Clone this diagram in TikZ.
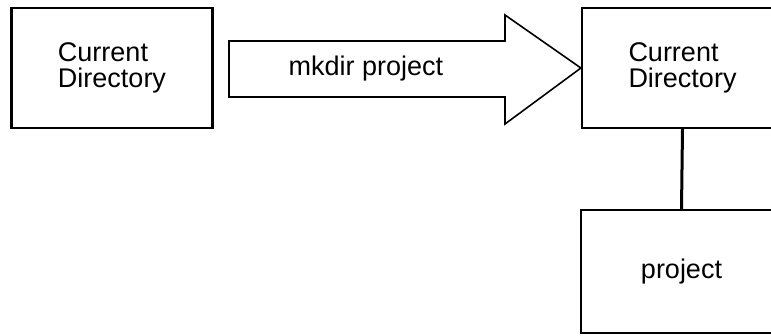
\documentclass[tikz,border=0pt]{standalone}
\usepackage{fontspec}
\setmainfont{Liberation Sans}
\begin{document}
\begin{tikzpicture}[x=1pt,y=-1pt,
  dirbox/.style={draw,line width=2.2pt,minimum width=201pt,minimum height=120pt,
    inner sep=0pt,align=left,font=\fontsize{27}{26}\selectfont},
  cmdlabel/.style={font=\fontsize{27}{26}\selectfont,inner sep=0pt}]
\useasboundingbox (0,0) rectangle (771,335);
\clip (0,0) rectangle (771,335);
% directory boxes
\node[dirbox] (cur)  at (112,68)  {Current\\Directory};
\node[dirbox] (cur2) at (682.5,68) {Current\\Directory};
\node[dirbox,minimum height=123pt] (proj) at (681.5,271.5) {\raisebox{2pt}{project}};
% block arrow for the command
\coordinate (tip) at (cur2.west);
\draw[line width=1.6pt,line join=miter]
  (229,41) -- (505,41) -- (505,15) -- (tip) -- (505,124) -- (505,97) -- (229,97) -- cycle;
\node[cmdlabel,anchor=base] (cmd) at (366,75) {mkdir project};
% parent–child link
\draw[line width=3pt] (cur2.south) -- (proj.north);
\end{tikzpicture}
\end{document}
